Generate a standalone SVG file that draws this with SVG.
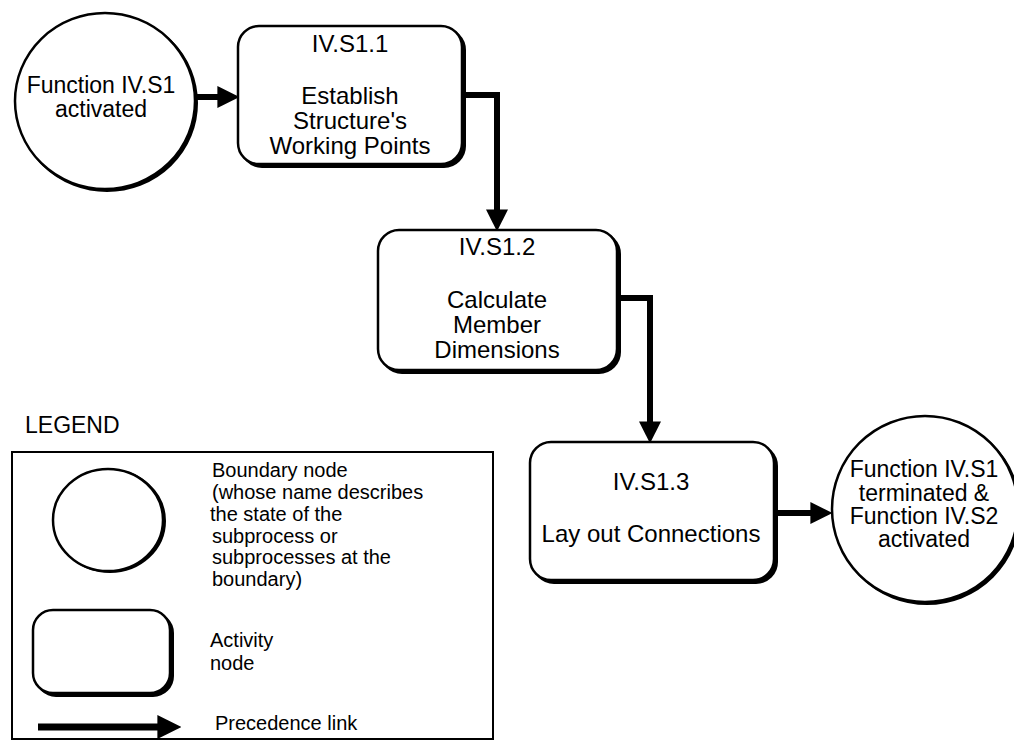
<svg xmlns="http://www.w3.org/2000/svg" width="1014" height="743" viewBox="0 0 1014 743">
  <defs>
    <style>
      .node { fill: #fff; stroke: #000; stroke-width: 2.5; }
      .shadow { fill: #000; stroke: #000; stroke-width: 2; }
      .lbl { font-family: "Liberation Sans", Arial, Helvetica, sans-serif; font-size: 24px; fill: #000; text-anchor: middle; }
      .blbl { font-family: "Liberation Sans", Arial, Helvetica, sans-serif; font-size: 23px; fill: #000; text-anchor: middle; }
      .leg { font-family: "Liberation Sans", Arial, Helvetica, sans-serif; font-size: 20px; fill: #000; }
      .link { fill: none; stroke: #000; stroke-width: 6; stroke-linejoin: miter; marker-end: url(#head); }
    </style>
    <marker id="head" markerUnits="userSpaceOnUse" markerWidth="22" markerHeight="22" refX="6" refY="10" orient="auto" viewBox="0 0 20 20">
      <path d="M0,0 L20,10 L0,20 Z" fill="#000"/>
    </marker>
    <marker id="headLg" markerUnits="userSpaceOnUse" markerWidth="24" markerHeight="24" refX="7" refY="11" orient="auto" viewBox="0 0 22 22">
      <path d="M0,0 L22,11 L0,22 Z" fill="#000"/>
    </marker>
  </defs>

  <rect width="1014" height="743" fill="#fff"/>

  <!-- precedence links -->
  <g id="links">
    <path class="link" d="M196,97 H224"/>
    <path class="link" d="M462,95 H497 V216"/>
    <path class="link" d="M617,298 H650 V428"/>
    <path class="link" d="M774,513 H817"/>
  </g>

  <!-- boundary node: start -->
  <g id="start">
    <ellipse class="shadow" cx="107" cy="103" rx="90" ry="88"/>
    <ellipse class="node" cx="105" cy="101" rx="90" ry="88"/>
    <text class="blbl" x="101" y="93">Function IV.S1</text>
    <text class="blbl" x="101" y="117">activated</text>
  </g>

  <!-- activity IV.S1.1 -->
  <g id="s1_1">
    <rect class="shadow" x="241" y="29" width="224" height="138" rx="21"/>
    <rect class="node" x="238" y="26" width="224" height="138" rx="21"/>
    <text class="lbl" x="350" y="52">IV.S1.1</text>
    <text class="lbl" x="350" y="104">Establish</text>
    <text class="lbl" x="350" y="129">Structure's</text>
    <text class="lbl" x="350" y="154">Working Points</text>
  </g>

  <!-- activity IV.S1.2 -->
  <g id="s1_2">
    <rect class="shadow" x="381" y="233" width="239" height="140" rx="21"/>
    <rect class="node" x="378" y="230" width="239" height="140" rx="21"/>
    <text class="lbl" x="497" y="255">IV.S1.2</text>
    <text class="lbl" x="497" y="308">Calculate</text>
    <text class="lbl" x="497" y="333">Member</text>
    <text class="lbl" x="497" y="358">Dimensions</text>
  </g>

  <!-- activity IV.S1.3 -->
  <g id="s1_3">
    <rect class="shadow" x="533" y="445" width="244" height="138" rx="21"/>
    <rect class="node" x="530" y="442" width="244" height="138" rx="21"/>
    <text class="lbl" x="651" y="490">IV.S1.3</text>
    <text class="lbl" x="651" y="542">Lay out Connections</text>
  </g>

  <!-- boundary node: end -->
  <g id="end">
    <ellipse class="shadow" cx="927" cy="511" rx="93" ry="93"/>
    <ellipse class="node" cx="925" cy="509" rx="93" ry="93"/>
    <text class="blbl" x="924" y="477">Function IV.S1</text>
    <text class="blbl" x="924" y="501">terminated &amp;</text>
    <text class="blbl" x="924" y="524">Function IV.S2</text>
    <text class="blbl" x="924" y="547">activated</text>
  </g>

  <!-- legend -->
  <g id="legend">
    <text class="leg" x="25" y="433" style="font-size:23px">LEGEND</text>
    <rect x="12" y="452" width="481" height="287" fill="none" stroke="#000" stroke-width="2"/>
    <ellipse class="shadow" cx="110" cy="521" rx="55" ry="51"/>
    <ellipse class="node" cx="108" cy="520" rx="55" ry="51"/>
    <text class="leg" x="212" y="477">Boundary node</text>
    <text class="leg" x="212" y="499"> (whose name describes</text>
    <text class="leg" x="210" y="521">the state of the</text>
    <text class="leg" x="212" y="543">subprocess or</text>
    <text class="leg" x="212" y="564">subprocesses at the</text>
    <text class="leg" x="212" y="586">boundary)</text>
    <rect class="shadow" x="36" y="613" width="137" height="83" rx="20"/>
    <rect class="node" x="33" y="610" width="137" height="83" rx="20"/>
    <text class="leg" x="210" y="647">Activity</text>
    <text class="leg" x="210" y="670">node</text>
    <path d="M38,727 H165" fill="none" stroke="#000" stroke-width="7" marker-end="url(#headLg)"/>
    <text class="leg" x="215" y="730">Precedence link</text>
  </g>
</svg>
